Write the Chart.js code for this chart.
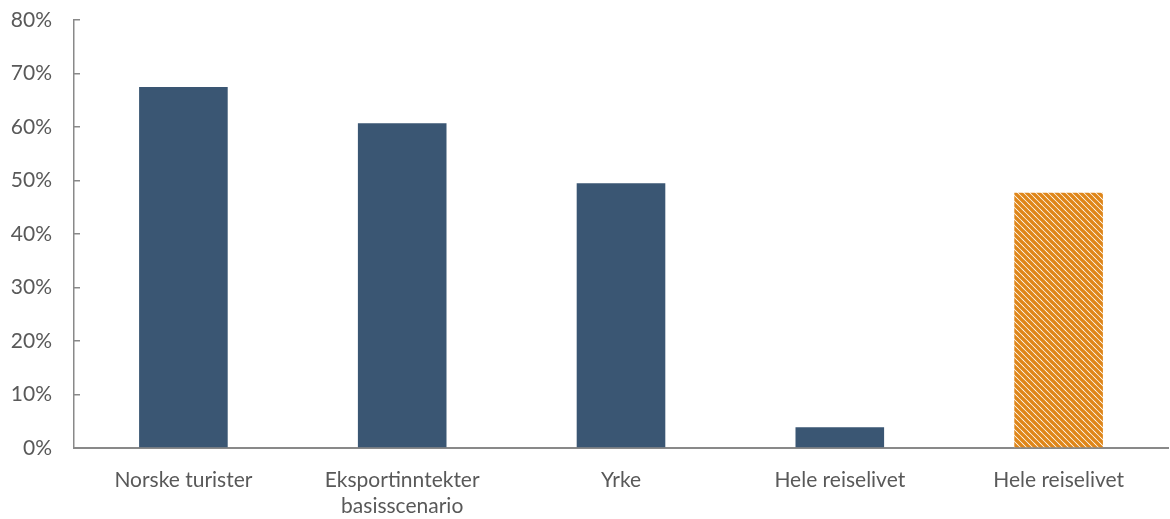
<!DOCTYPE html>
<html>
<head>
<meta charset="utf-8">
<script src="https://cdn.jsdelivr.net/npm/chart.js@4.4.1/dist/chart.umd.min.js"></script>
<style>
html,body{margin:0;padding:0;background:#fff;}
#wrap{width:1170px;height:519px;position:relative;}
</style>
</head>
<body>
<div id="wrap"><canvas id="c" width="1170" height="519"></canvas></div>
<script>
const categories = [["Norske turister"], ["Eksportinntekter", "basisscenario"], ["Yrke"], ["Hele reiselivet"], ["Hele reiselivet"]];
const values = [67.5, 60.7, 49.5, 3.9, 47.7];
const yTicks = [0, 10, 20, 30, 40, 50, 60, 70, 80];

function makeHatch() {
  const size = 6;
  const p = document.createElement('canvas');
  p.width = size; p.height = size;
  const g = p.getContext('2d');
  g.fillStyle = '#ffffff';
  g.fillRect(0, 0, size, size);
  g.strokeStyle = '#DF8619';
  g.lineWidth = 3.4;
  g.beginPath();
  for (let k = -2; k <= 2; k++) {
    g.moveTo(k * size - 1, -1);
    g.lineTo(k * size + size + 1, size + 1);
  }
  g.stroke();
  return document.getElementById('c').getContext('2d').createPattern(p, 'repeat');
}
const hatch = makeHatch();
const blue = '#3A5673';
const colors = values.map((v, i) => i === 4 ? hatch : blue);

const font = { family: 'Lato, "Open Sans", sans-serif', size: 21 };

new Chart(document.getElementById('c'), {
  type: 'bar',
  data: {
    labels: categories,
    datasets: [{
      data: values,
      backgroundColor: colors,
      borderWidth: 0,
      categoryPercentage: 1,
      barPercentage: 0.405
    }]
  },
  options: {
    responsive: false,
    animation: false,
    events: [],
    layout: { padding: { top: 20, right: 2, left: 0, bottom: 0 } },
    plugins: { legend: { display: false }, tooltip: { enabled: false } },
    scales: {
      x: {
        afterFit: (s) => { s.height = 71; },
        grid: { display: true, drawOnChartArea: false, drawTicks: false },
        border: { display: true, color: '#898989', width: 2 },
        ticks: { color: '#595959', font: font, padding: 20, maxRotation: 0, autoSkip: false }
      },
      y: {
        min: 0, max: 80,
        afterBuildTicks: (s) => { s.ticks = yTicks.map(v => ({ value: v })); },
        afterFit: (s) => { s.width = 74; s.paddingTop = 0; s.paddingBottom = 0; },
        grid: { display: true, drawOnChartArea: false, drawTicks: true, tickLength: -6, color: '#898989', lineWidth: 1.5 },
        border: { display: true, color: '#898989', width: 1.5 },
        ticks: { color: '#595959', font: font, padding: 28, callback: (v) => v + '%' }
      }
    }
  }
});
</script>
</body>
</html>
